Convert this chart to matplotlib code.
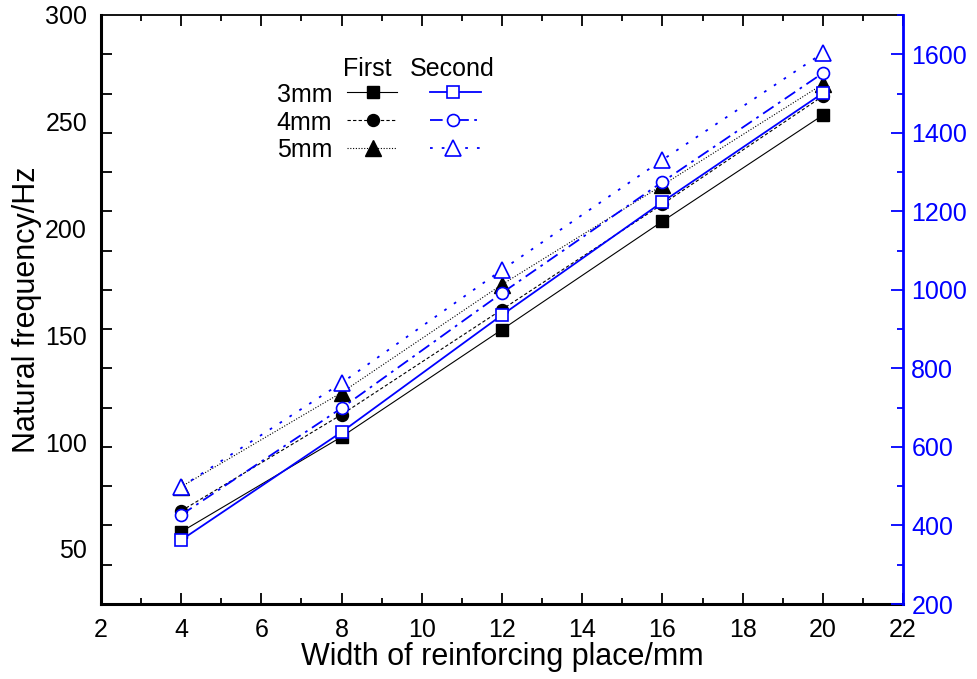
import matplotlib
matplotlib.use("Agg")
import matplotlib.pyplot as plt
import numpy as np
from matplotlib.ticker import FixedLocator, MultipleLocator

plt.rcParams['font.family'] = ['Liberation Sans', 'DejaVu Sans']

# ---- data ----
width_mm = [4, 8, 12, 16, 20]
thickness = ['3mm', '4mm', '5mm']
first_3mm = [58.0, 102.5, 152.7, 203.4, 253.1]
first_4mm = [67.8, 112.9, 162.1, 211.4, 262.0]
first_5mm = [79.1, 123.2, 173.8, 220.3, 267.6]
second_3mm = [363, 638, 936, 1224, 1501]
second_4mm = [427, 699, 992, 1275, 1552]
second_5mm = [498, 763, 1051, 1331, 1603]
left_tick_labels = [50, 100, 150, 200, 250, 300]
right_ticks = [200, 400, 600, 800, 1000, 1200, 1400, 1600]
x_ticks = [2, 4, 6, 8, 10, 12, 14, 16, 18, 20, 22]

BLUE = '#0000FF'
W, H = 977, 679
fig = plt.figure(figsize=(W / 100, H / 100), dpi=100)
L, R, T, B = 101, 903, 15, 604
ax = fig.add_axes([L / W, 1 - B / H, (R - L) / W, (B - T) / H])
ax2 = ax.twinx()

ylo = 24.2
ax.set_xlim(2, 22)
ax.set_ylim(ylo, 300)
ax2.set_ylim(200, 1700)

firsts = [first_3mm, first_4mm, first_5mm]
seconds = [second_3mm, second_4mm, second_5mm]
mk_first = ['s', 'o', '^']
mk_second = ['s', 'o', '^']
ms = [8, 8.6, 11.5]
ls_first = ['-', (0, (3, 2)), (0, (1, 1.5))]
ls_second = ['-', (0, (7, 3, 1.5, 3)), (0, (1.5, 5))]
lw_first = 0.8
lw_second = [1.3, 1.3, 1.3]

for i in range(3):
    ax.plot(width_mm, firsts[i], color='black', lw=lw_first, ls=ls_first[i],
            marker=mk_first[i], ms=ms[i], mfc='black', mec='black', zorder=3)
for i in range(3):
    ax2.plot(width_mm, seconds[i], color=BLUE, lw=lw_second[i], ls=ls_second[i],
             marker=mk_second[i], ms=ms[i], mfc='white', mec=BLUE, mew=1.2, zorder=4)

FS = 18
# ---- ticks ----
ax.xaxis.set_major_locator(FixedLocator(x_ticks))
ax.xaxis.set_minor_locator(MultipleLocator(1))
ax.tick_params(axis='x', which='major', direction='in', length=8, width=1.3,
               labelsize=FS, pad=10, top=True)
ax.tick_params(axis='x', which='minor', direction='in', length=4.5, width=1.3, top=True)

ax.yaxis.set_major_locator(FixedLocator(left_tick_labels))
ax.yaxis.set_minor_locator(FixedLocator(np.linspace(ylo, 300, 16)))
ax.tick_params(axis='y', which='major', direction='in', length=0, labelsize=FS, pad=10)
ax.tick_params(axis='y', which='minor', direction='in', length=8, width=1.3)

ax2.yaxis.set_major_locator(FixedLocator(right_ticks))
ax2.yaxis.set_minor_locator(MultipleLocator(100))
ax2.tick_params(axis='y', which='major', direction='in', length=8.5, width=1.3,
                colors=BLUE, labelsize=FS, pad=6)
ax2.tick_params(axis='y', which='minor', direction='in', length=4.5, width=1.3, colors=BLUE)

for sp in ['left', 'bottom']:
    ax.spines[sp].set_linewidth(2.2)
ax.spines['top'].set_linewidth(1.3)
ax2.spines['right'].set_color(BLUE)
ax2.spines['right'].set_linewidth(2.0)
for sp in ['left', 'bottom', 'top']:
    ax2.spines[sp].set_visible(False)
ax.spines['right'].set_visible(False)

ax.set_xlabel('Width of reinforcing place/mm', fontsize=22, labelpad=0)
ax.set_ylabel('Natural frequency/Hz', fontsize=22, labelpad=2)

# ---- legend (manual) ----
tr = ax.transAxes
def fx(px):
    return (px - L) / (R - L)
def fy(py):
    return (B - py) / (B - T)

ax.text(fx(367), fy(76), 'First', transform=tr, ha='center', va='baseline', fontsize=FS)
ax.text(fx(452), fy(76), 'Second', transform=tr, ha='center', va='baseline', fontsize=FS)
rows_line = [92, 120, 148]
rows_text = [102, 130, 157]
for i in range(3):
    ax.text(fx(332), fy(rows_text[i]), thickness[i], transform=tr, ha='right',
            va='baseline', fontsize=FS)
    ax.plot([fx(347), fx(397)], [fy(rows_line[i])] * 2, transform=tr, color='black',
            lw=lw_first, ls=ls_first[i], clip_on=False)
    ax.plot([fx(373)], [fy(rows_line[i])], transform=tr, marker=mk_first[i], ms=ms[i],
            color='black', clip_on=False)
    ax.plot([fx(430), fx(481)], [fy(rows_line[i])] * 2, transform=tr, color=BLUE,
            lw=lw_second[i], ls=ls_second[i], clip_on=False)
    ax.plot([fx(453)], [fy(rows_line[i])], transform=tr, marker=mk_second[i], ms=ms[i],
            mfc='white', mec=BLUE, mew=1.2, clip_on=False, zorder=5)

fig.savefig('out.png', dpi=100)
